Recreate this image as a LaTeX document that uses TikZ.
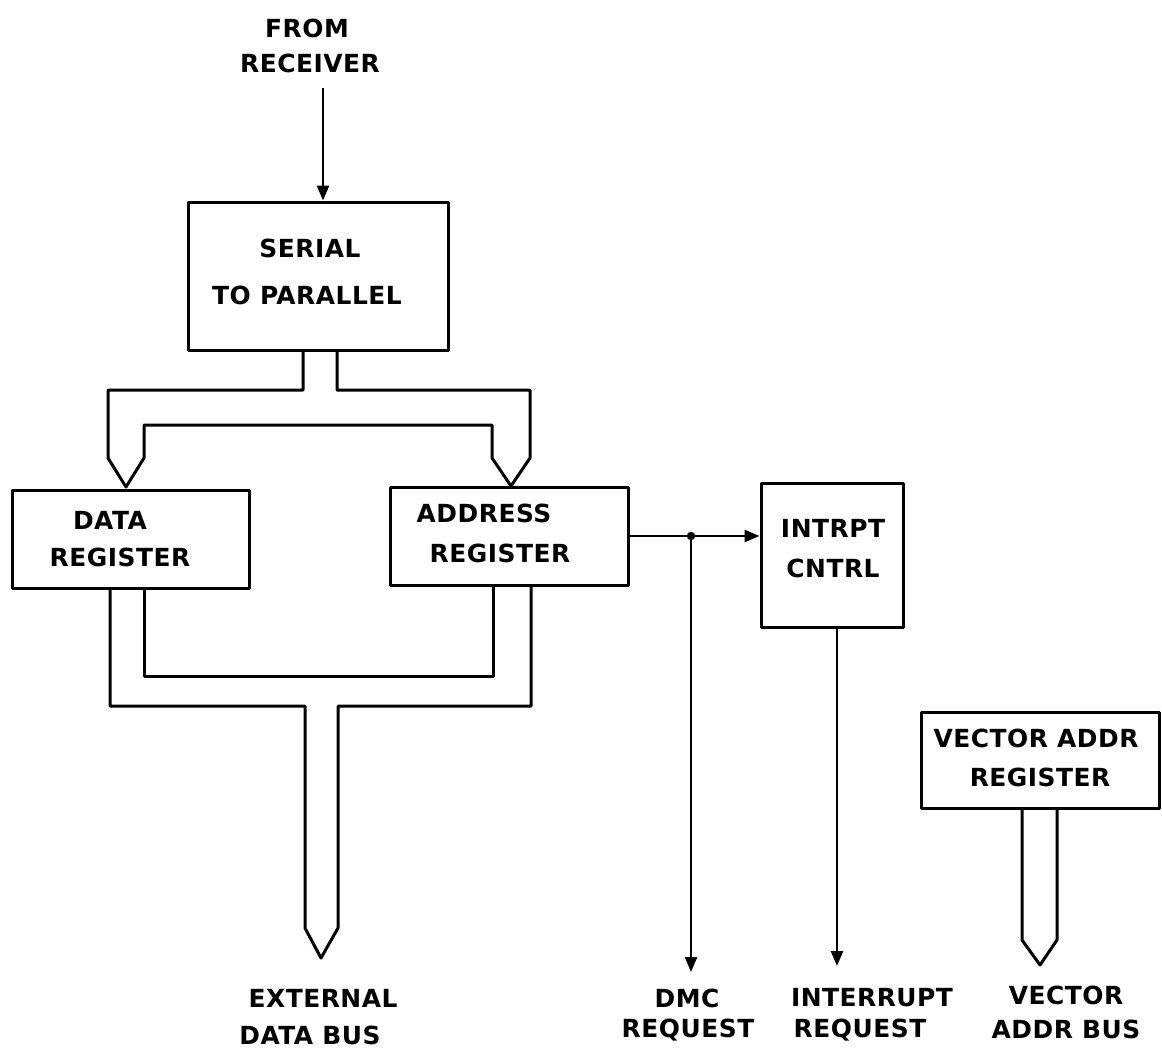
\documentclass[tikz,border=0pt]{standalone}
\usepackage{fontspec}
\setmainfont{DejaVu Sans}[LetterSpace=2]
\usetikzlibrary{arrows.meta}
\tikzset{
  box/.style={draw, line width=3bp, inner sep=0pt, line join=round},
  lbl/.style={inner sep=0pt, font=\fontsize{25}{35}\selectfont\bfseries},
  wire/.style={line width=2.6bp},
  arr/.style={wire, -{Triangle[length=15bp,width=12bp]}},
  busline/.style={line width=3bp, line join=round},
}
\begin{document}
\begin{tikzpicture}[x=1bp,y=-1bp]
\useasboundingbox (0,0) rectangle (1162,1055);
% boxes
\node[box, minimum width=260bp, minimum height=148bp] (sp) at (318,276) {};
\node[box, minimum width=236bp, minimum height=98bp] (dr) at (131,539) {};
\node[box, minimum width=238bp, minimum height=98bp] (ar) at (509,536) {};
\node[box, minimum width=142bp, minimum height=144bp] (ic) at (832,555) {};
\node[box, minimum width=238bp, minimum height=96bp] (vr) at (1040,760) {};
% box texts
\node[lbl] (t1) at (310,248) {SERIAL};
\node[lbl] (t2) at (307,295) {TO PARALLEL};
\node[lbl] (t3) at (110,520) {DATA};
\node[lbl] (t4) at (120,557) {REGISTER};
\node[lbl] (t5) at (484,513) {ADDRESS};
\node[lbl] (t6) at (500,553) {REGISTER};
\node[lbl] (t7) at (833,528) {INTRPT};
\node[lbl] (t8) at (833,568) {CNTRL};
\node[lbl] (t9) at (1036,738) {VECTOR ADDR};
\node[lbl] (t10) at (1040,777) {REGISTER};
% outside labels
\node[lbl] (l1) at (307,28) {FROM};
\node[lbl] (l2) at (310,63) {RECEIVER};
\node[lbl] (l3) at (323,998) {EXTERNAL};
\node[lbl] (l4) at (310,1035) {DATA BUS};
\node[lbl] (l5) at (687,998) {DMC};
\node[lbl] (l6) at (688,1030) {REQUEST};
\node[lbl] (l7) at (872,998) {INTERRUPT};
\node[lbl] (l8) at (860,1030) {REQUEST};
\node[lbl] (l9) at (1066,995) {VECTOR};
\node[lbl] (l10) at (1066,1029) {ADDR BUS};
% input arrow
\coordinate (rx) at (323,88);
\draw[arr] (rx) -- (rx |- sp.north);
% address -> interrupt control, with DMC tap
\coordinate (jn) at (691,0);
\draw[arr] (ar.east) -- (ar.east -| ic.west);
\coordinate (tap) at (jn |- ar.east);
\fill (tap) circle (4.2bp);
\coordinate (dmc) at (691,972);
\draw[arr] (tap) -- (dmc);
\coordinate (irq) at (837,966);
\draw[arr] (irq |- ic.south) -- (irq);
% upper bus (serial to parallel -> registers)
\draw[busline] (303,350) -- (303,390) -- (108,390) -- (108,458) -- (126,487)
  -- (144,458) -- (144,425) -- (492,425) -- (492,458) -- (511,486)
  -- (530,458) -- (530,390) -- (337,390) -- (337,350);
% lower bus (registers -> external data bus)
\draw[busline] (110,588) -- (110,706) -- (305,706) -- (305,928) -- (321,958)
  -- (338,928) -- (338,706) -- (531,706) -- (531,585);
\draw[busline] (144,588) -- (144,676) -- (493,676) -- (493,585);
% vector address bus
\draw[busline] (1022,808) -- (1022,940) -- (1040,965) -- (1057,940) -- (1057,808);
\end{tikzpicture}
\end{document}
